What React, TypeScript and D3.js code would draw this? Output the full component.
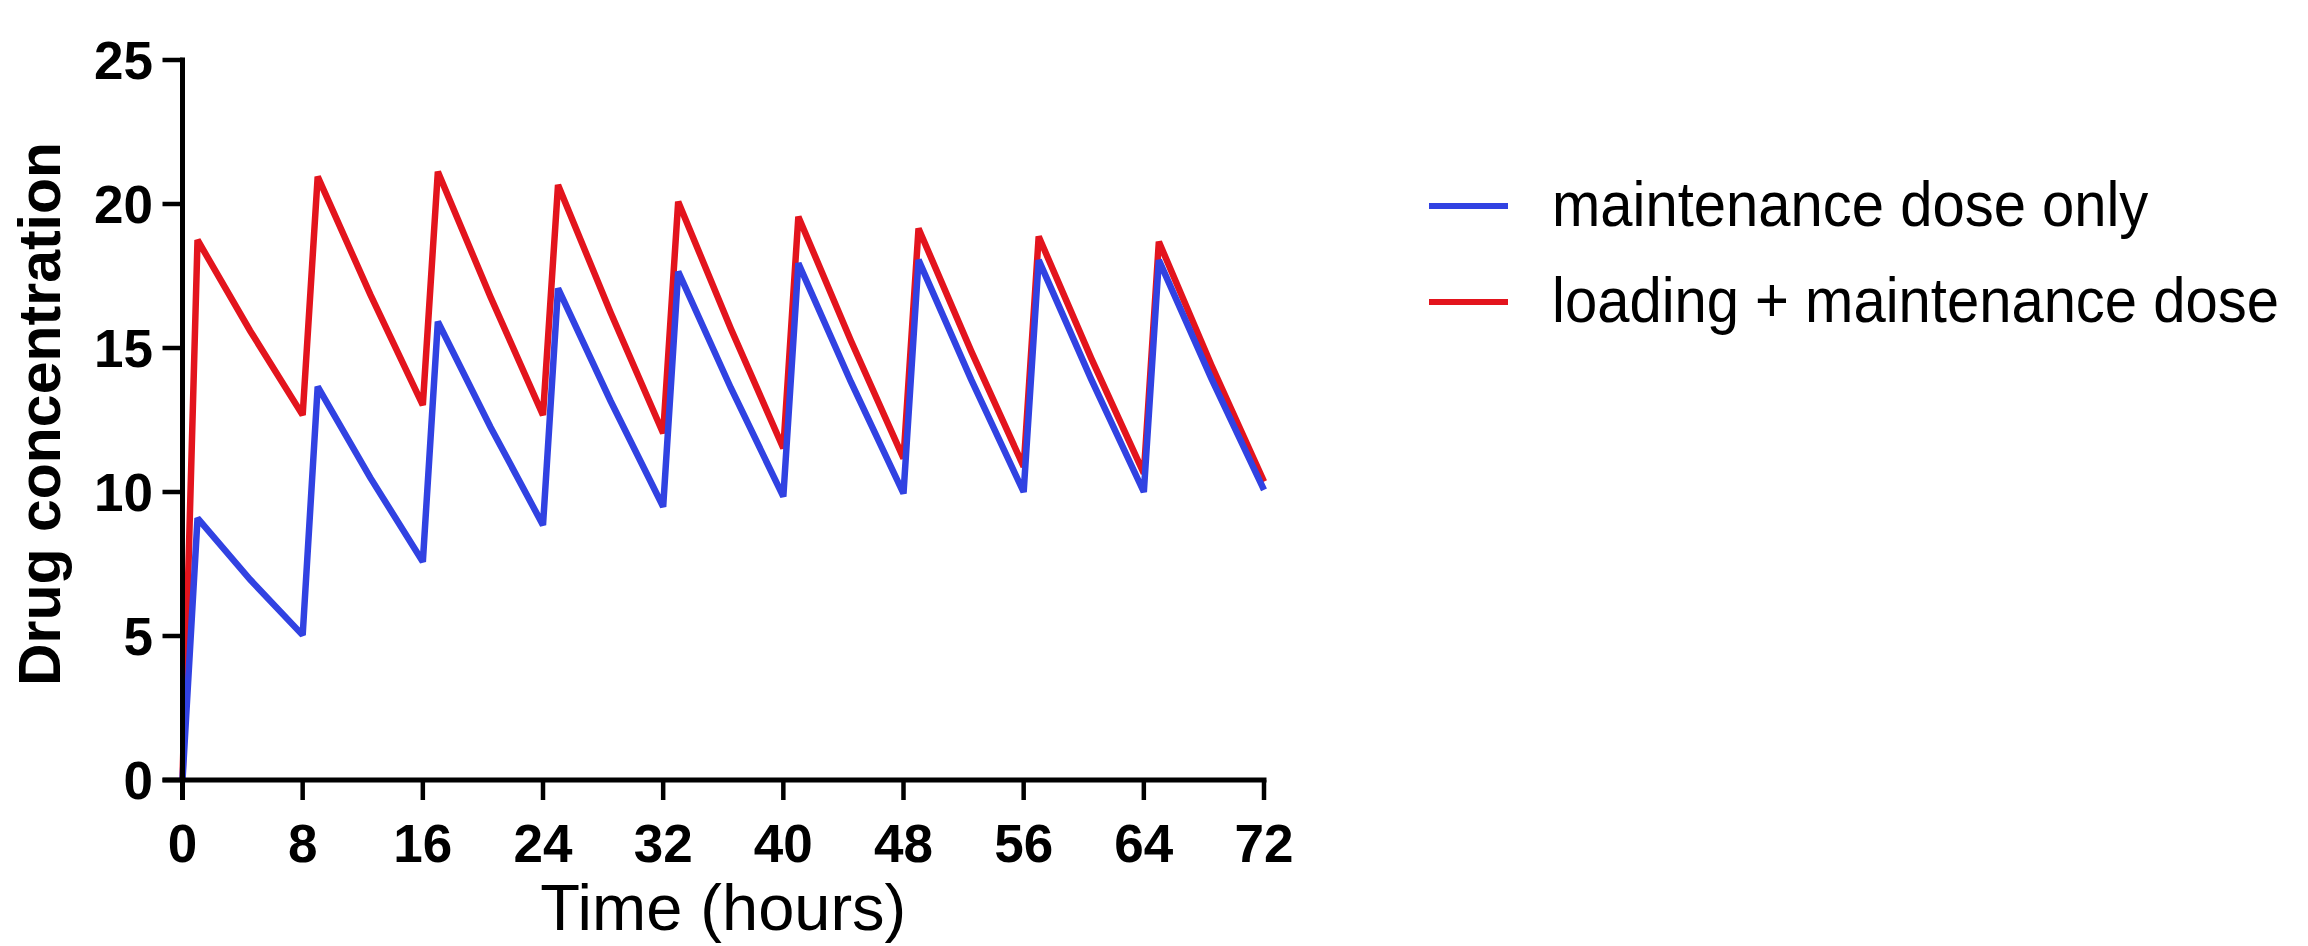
import React from "react";
import * as d3 from "d3";

// Time points (hours): dose, ~1 h peak, mid-decay, next dose ...
const timeHours = [
  0, 1, 4.5, 8, 9, 12.5, 16, 17, 20.5, 24, 25, 28.5, 32, 33, 36.5, 40, 41, 44.5,
  48, 49, 52.5, 56, 57, 60.5, 64, 65, 68.5, 72,
];

const maintenanceOnly = [
  0, 9.09, 6.96, 5.03, 13.66, 10.5, 7.58, 15.91, 12.26, 8.85, 17.07, 13.16,
  9.49, 17.65, 13.62, 9.84, 17.94, 13.82, 9.95, 18.06, 13.91, 10.0, 18.05,
  13.91, 10.0, 18.05, 13.94, 10.07,
];

const loadingPlusMaintenance = [
  0, 18.75, 15.6, 12.67, 20.95, 16.86, 13.02, 21.12, 16.78, 12.67, 20.66,
  16.23, 12.04, 20.08, 15.68, 11.52, 19.56, 15.25, 11.17, 19.15, 14.9, 10.88,
  18.87, 14.64, 10.65, 18.69, 14.4, 10.36,
];

const xTicks = [0, 8, 16, 24, 32, 40, 48, 56, 64, 72];
const yTicks = [0, 5, 10, 15, 20, 25];

const seriesNames = ["maintenance dose only", "loading + maintenance dose"];
const seriesColors = ["#3142e2", "#e3141d"];

const xTitle = "Time (hours)";
const yTitle = "Drug concentration";

const FONT = "'Liberation Sans', Arial, Helvetica, sans-serif";

export default function App() {
  const W = 2308;
  const H = 946;
  const x = d3.scaleLinear().domain([0, 72]).range([182.5, 1264]);
  const y = d3.scaleLinear().domain([0, 25]).range([780, 60]);
  const tickLen = 20;

  const line = d3
    .line<number>()
    .x((_, i) => x(timeHours[i]))
    .y((d) => y(d))
    .curve(d3.curveLinear);

  const series = [maintenanceOnly, loadingPlusMaintenance];
  // draw red first, blue on top
  const drawOrder = [1, 0];

  const x0 = x(0);
  const y0 = y(0);

  return (
    <div style={{ position: "absolute", left: 0, top: 0 }}>
      <svg width={W} height={H} viewBox={`0 0 ${W} ${H}`} style={{ display: "block", background: "#fff" }}>
        <rect x={0} y={0} width={W} height={H} fill="#fff" />

        {/* data lines */}
        <g fill="none" strokeWidth={6.5} strokeLinejoin="miter" strokeMiterlimit={2}>
          {drawOrder.map((si) => (
            <path key={si} d={line(series[si]) || ""} stroke={seriesColors[si]} />
          ))}
        </g>

        {/* axes */}
        <g stroke="#000" strokeLinecap="butt">
          <line x1={x0} x2={x0} y1={y(25) - 2.5} y2={y0 + tickLen} strokeWidth={5} />
          <line x1={x0 - tickLen} x2={x(72) + 2.5} y1={y0} y2={y0} strokeWidth={5} />
          {yTicks.map((t) => (
            <line key={"yt" + t} x1={x0 - tickLen} x2={x0} y1={y(t)} y2={y(t)} strokeWidth={4.5} />
          ))}
          {xTicks.map((t) => (
            <line key={"xt" + t} x1={x(t)} x2={x(t)} y1={y0} y2={y0 + tickLen} strokeWidth={4.5} />
          ))}
        </g>

        {/* tick labels */}
        <g fontFamily={FONT} fontWeight="bold" fontSize={53} fill="#000">
          {yTicks.map((t) => (
            <text key={"yl" + t} x={153} y={y(t)} dy="0.36em" textAnchor="end">
              {t}
            </text>
          ))}
          {xTicks.map((t) => (
            <text key={"xl" + t} x={x(t)} y={862} textAnchor="middle">
              {t}
            </text>
          ))}
        </g>

        {/* axis titles */}
        <text x={(x(0) + x(72)) / 2} y={930} textAnchor="middle" fontFamily={FONT} fontSize={65} fill="#000">
          {xTitle}
        </text>
        <text
          transform={`translate(60, ${(y(0) + y(25)) / 2 - 6}) rotate(-90)`}
          textAnchor="middle"
          fontFamily={FONT}
          fontWeight="bold"
          fontSize={59}
          fill="#000"
        >
          {yTitle}
        </text>

        {/* legend */}
        <g fontFamily={FONT} fontSize={58} fill="#000">
          {seriesNames.map((name, i) => (
            <g key={name} transform={`translate(0, ${206 + i * 96})`}>
              <line x1={1429} x2={1508} y1={0} y2={0} stroke={seriesColors[i]} strokeWidth={6} />
              <text transform={`translate(1552, 20) scale(1, 1.1)`}>{name}</text>
            </g>
          ))}
        </g>
      </svg>
    </div>
  );
}
